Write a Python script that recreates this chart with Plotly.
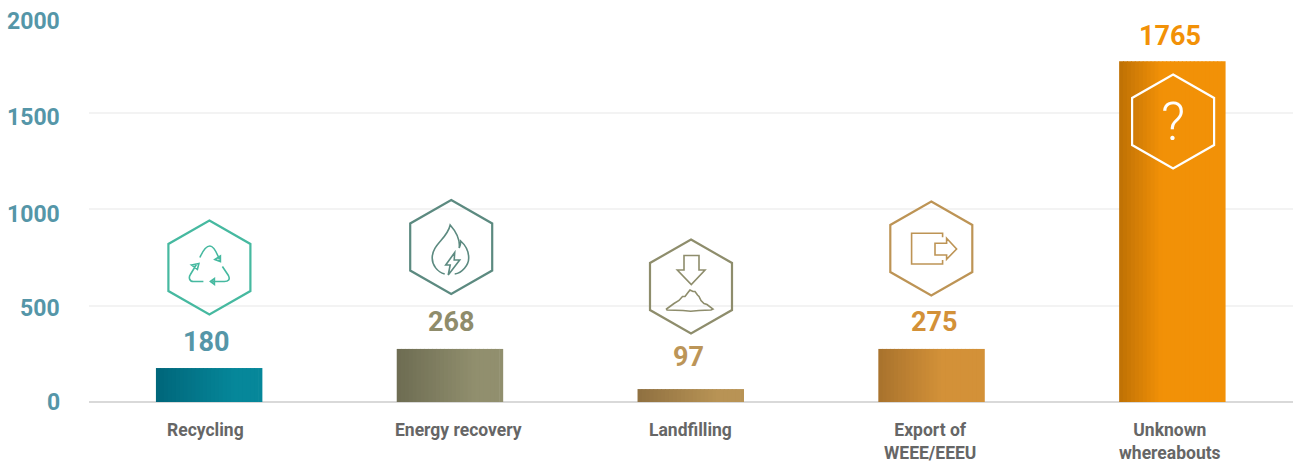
import plotly.graph_objects as go

categories = ["Recycling", "Energy recovery", "Landfilling", "Export of<br>WEEE/EEEU", "Unknown<br>whereabouts"]
bar_values = [176, 275, 67, 275, 1765]
value_labels = ["180", "268", "97", "275", "1765"]
y_ticks = [0, 500, 1000, 1500, 2000]
y_tick_labels = ["0", "500", "1000", "1500", "2000"]

TICK = "#5596A8"
CAT = "#666666"
label_colors = ["#5596A8", "#8F8C6B", "#BC9558", "#D39138", "#F29107"]
grad_left = ["#00667A", "#6D6C52", "#8F7040", "#A8722D", "#BE7005"]
grad_right = ["#06879A", "#918F6E", "#B89355", "#D39138", "#F29107"]
grad_end = [0.75, 0.75, 0.75, 0.6, 0.4]
icon_colors = ["#46B9A0", "#5C8A80", "#8E8D6C", "#BD9455", "#FFFFFF"]
label_dx = [-3, 1, -3, 2, -3]
label_dy = [12, 13, 18, 13, 11]
cat_dx = [-4, 8, -1, -2, -3]
ytick_dy = [0, -3, -5, -5, -5]
icon_centers = [(0, -134.5), (1, -155), (0, -115.5), (-0.5, -153.5), (0.5, -280.5)]
BAR_W = 0.44
N = 27
W, H = 1293, 462


def mix(a, b, t):
    ca = [int(a[i:i + 2], 16) for i in (1, 3, 5)]
    cb = [int(b[i:i + 2], 16) for i in (1, 3, 5)]
    return "rgb(%d,%d,%d)" % tuple(round(p + (q - p) * t) for p, q in zip(ca, cb))


fig = go.Figure()
for i, v in enumerate(bar_values):
    step = BAR_W / N
    xs = [i - BAR_W / 2 + step * (j + 0.5) for j in range(N)]
    cols = [mix(grad_left[i], grad_right[i], min(1, (j + 0.5) / N / grad_end[i])) for j in range(N)]
    fig.add_trace(go.Bar(x=xs, y=[v] * N, width=[step * 1.25] * (N - 1) + [step],
                         marker=dict(color=cols, line=dict(width=0)),
                         showlegend=False, hoverinfo="skip"))


def path(cmds):
    """Icon outline in pixel offsets from the hexagon centre (y downwards)."""
    out = []
    for c in cmds:
        if c == "Z":
            out.append("Z")
        else:
            op, *pts = c
            out.append(op + " " + " ".join("%g,%g" % (x, -y) for x, y in pts))
    return " ".join(out)


def shifted(cmds, cx, cy):
    res = []
    for c in cmds:
        if c == "Z":
            res.append("Z")
        else:
            res.append((c[0], *[(x + cx, y + cy) for x, y in c[1:]]))
    return res


def poly(pts, close=True):
    c = [("M", pts[0])] + [("L", p) for p in pts[1:]]
    return c + (["Z"] if close else [])


HEX = poly([(0, -47), (41, -23.5), (41, 23.5), (0, 47), (-41, 23.5), (-41, -23.5)])

RECYCLE = [
    ("M", (-9.5, -10)), ("C", (-6, -18), (-3, -21.5), (0.5, -21.5)), ("C", (4, -21.5), (7, -16), (10, -8)),
    ("M", (5.5, -8)), ("L", (11, -11.5)), ("L", (11, -6)), "Z",
    ("M", (-6, 14)), ("L", (-16, 14)), ("C", (-20, 14), (-21, 10), (-19, 7)), ("L", (-13, -3)),
    ("M", (-18, -2.5)), ("L", (-10.5, -4)), ("L", (-12, 2)), "Z",
    ("M", (13, -1)), ("L", (19, 8)), ("C", (21, 12), (19, 14), (15, 14)), ("L", (3, 14)),
    ("M", (1, 14)), ("L", (5, 11)), ("L", (5, 17)), "Z",
]
FLAME = [
    ("M", (-6.5, 27)), ("C", (-14, 25), (-19, 18), (-19, 11)), ("C", (-19, -3), (-4, -8), (-1, -22)),
    ("C", (6, -14), (9, -7), (8, 1)), ("C", (9, -1), (9.5, -3), (9.5, -6)),
    ("C", (14, -2), (17.5, 4), (17.5, 11)), ("C", (17.5, 18), (11, 26), (3.5, 27)),
] + poly([(3.5, 5.5), (-5.5, 18), (-1, 18), (-3, 28), (8.5, 13), (3, 13)])
LANDFILL = poly([(-7, -31), (8, -31), (8, -16.5), (14, -16.5), (0.3, -2), (-13.7, -16.5), (-7, -16.5)]) + poly([
    (-24.5, 22.5), (-17, 17), (-12, 14), (-8.5, 10), (-6, 10), (-3, 6), (-1, 3.5), (2, 5), (4, 5), (6.5, 8.5),
    (8, 10), (10, 14), (13, 17), (16, 18), (22, 22.5), (20, 23.5), (8, 24), (-0.3, 24.8), (-8, 24), (-24, 23.5)])
EXPORT = poly([(11.3, -11.2), (11.3, -15.2), (-19.7, -15.2), (-19.7, 15.5), (11.3, 15.5), (11.3, 11.5)], close=False) + poly(
    [(3.7, -5.2), (15.3, -5.2), (15.3, -10.2), (25.3, 0.5), (15.3, 10.8), (15.3, 6.5), (3.7, 6.5)])
icons = [RECYCLE, FLAME, LANDFILL, EXPORT, []]

shapes = []
for i, (cx, cy) in enumerate(icon_centers):
    for cmds, lw in ((HEX, 2.2), (icons[i], 1.6)):
        if not cmds:
            continue
        shapes.append(dict(type="path", layer="above", xref="x", yref="y",
                           xsizemode="pixel", ysizemode="pixel", xanchor=i, yanchor=0,
                           path=path(shifted(cmds, cx, cy)),
                           line=dict(color=icon_colors[i], width=lw), fillcolor="rgba(0,0,0,0)"))

annotations = []
for i, lab in enumerate(value_labels):
    annotations.append(dict(x=i, y=bar_values[i], xref="x", yref="y", text=lab, showarrow=False,
                            xanchor="center", yanchor="bottom", xshift=label_dx[i], yshift=label_dy[i] - 4,
                            font=dict(family="Roboto", size=27, color=label_colors[i], weight=700)))
for i, c in enumerate(categories):
    annotations.append(dict(x=i, y=0, xref="x", yref="y", text=c, showarrow=False, align="center",
                            xanchor="center", yanchor="top", xshift=cat_dx[i], yshift=-16,
                            font=dict(family="Roboto", size=17.5, color=CAT, weight=700)))
for v, lab, d in zip(y_ticks, y_tick_labels, ytick_dy):
    annotations.append(dict(x=0, y=v, xref="paper", yref="y", text=lab, showarrow=False,
                            xanchor="right", yanchor="middle", xshift=-27, yshift=d,
                            font=dict(family="Roboto", size=23, color=TICK, weight=700)))
annotations.append(dict(x=4, y=0, xref="x", yref="y", text="?", showarrow=False, xanchor="center", yanchor="middle",
                        yshift=280.5, font=dict(family="Roboto", size=53, color="#FFFFFF", weight=300)))

fig.update_layout(
    width=W, height=H, margin=dict(l=89, r=0, t=16, b=60), paper_bgcolor="white", plot_bgcolor="white",
    barmode="overlay", showlegend=False, shapes=shapes, annotations=annotations,
    xaxis=dict(range=[-0.5, 4.5], showgrid=False, zeroline=False, showticklabels=False, ticks="",
               showline=False, fixedrange=True),
    yaxis=dict(range=[0, 2000], tickvals=y_ticks, showticklabels=False, ticks="", gridcolor="#F3F3F3", gridwidth=2,
               zeroline=True, zerolinecolor="#D9D9D9", zerolinewidth=2, showline=False, fixedrange=True),
)
fig.write_html("out.html", config={"displayModeBar": False},
               post_script="document.body.style.margin='0';document.body.style.overflow='hidden';")
